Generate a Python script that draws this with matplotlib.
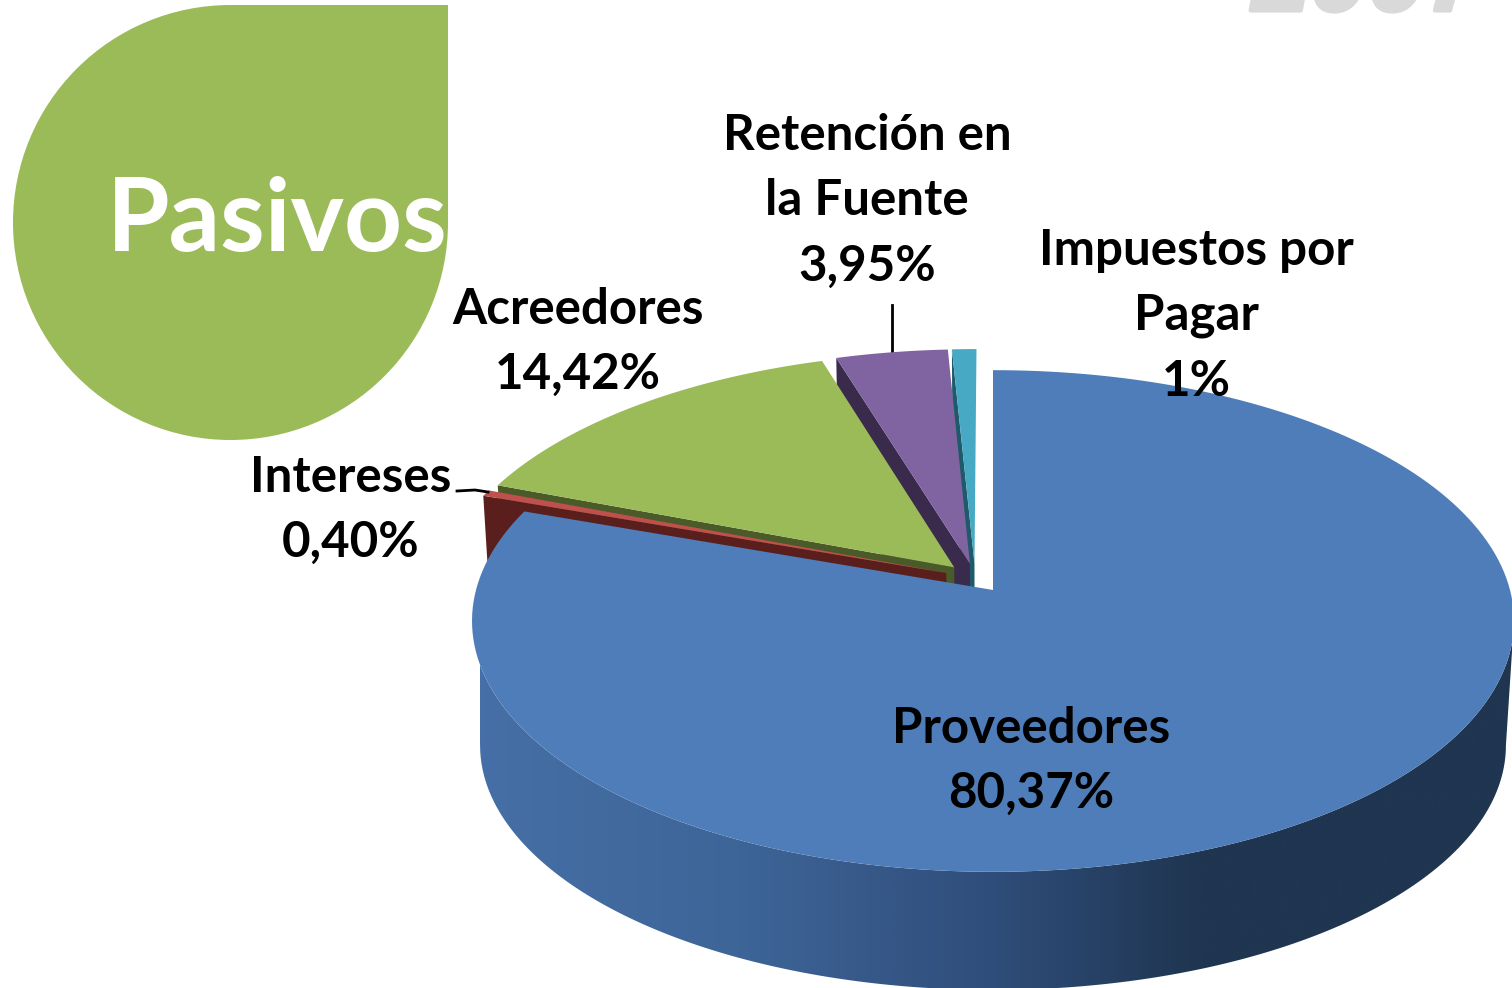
import numpy as np
import matplotlib.pyplot as plt
import matplotlib.patheffects as pe
from matplotlib.colors import LinearSegmentedColormap
from matplotlib.patches import Circle, Polygon, Rectangle

plt.rcParams['font.family'] = ['Lato', 'DejaVu Sans']

categories = ["Proveedores", "Intereses", "Acreedores", "Retención en\nla Fuente", "Impuestos por\nPagar"]
values = [80.37, 0.40, 14.42, 3.95, 0.86]
value_labels = ["80,37%", "0,40%", "14,42%", "3,95%", "1%"]
top_colors = ["#4e7db9", "#c0504d", "#9bbb59", "#8064a2", "#47a9c4"]
side_colors = ["#1f3550", "#5a1e1c", "#4a5a28", "#3a2a4c", "#1f5a6b"]
label_pos = [(1031, 728), (351, 477), (578, 309), (867, 135), (1196, 250)]

# pie geometry in pixels, k is the perspective
ox, oy = 993, 590
a_top, b_top = 517, 247
a_bot, b_bot = 509, 241
depth = 125
k = 0.1235
explode = 0.06
line_h = 65.5
label_size = 35.5

fig = plt.figure(figsize=(15.12, 9.88), dpi=100)
ax = fig.add_axes([0, 0, 1, 1])
ax.set_xlim(0, 1512)
ax.set_ylim(988, 0)
ax.axis("off")


def project(u, v, bottom=False):
    d = 1 + k * v
    if bottom:
        return np.column_stack([ox + a_bot * u / d, oy + depth - b_bot * v / d])
    return np.column_stack([ox + a_top * u / d, oy - b_top * v / d])


def rim(t0, t1, cu, cv, bottom=False):
    t = np.radians(np.linspace(t0, t1, 200))
    return project(cu + np.sin(t), cv + np.cos(t), bottom)


def apex(cu, cv, bottom=False):
    return project(np.array([cu]), np.array([cv]), bottom)


edges = np.cumsum([0] + values) / sum(values) * 360
mids = (edges[:-1] + edges[1:]) / 2
# blue stays at the origin, the others move away from it
base_u = -explode * np.sin(np.radians(mids[0]))
base_v = -explode * np.cos(np.radians(mids[0]))

# badge
ax.add_patch(Circle((230.5, 222.5), 217.5, color="#9bbb59", lw=0, zorder=1))
ax.add_patch(Rectangle((230.5, 5), 217.5, 217.5, color="#9bbb59", lw=0, zorder=1))
ax.text(277, 222, "Pasivos", color="white", fontsize=73, fontweight="bold",
        ha="center", va="center", zorder=2)

ax.text(1368, 10.5, "2007", color="#d9d9d9", fontsize=75, fontweight="bold", style="italic",
        family="Liberation Sans", ha="center", va="baseline", zorder=1,
        path_effects=[pe.withStroke(linewidth=3, foreground="#d9d9d9")])

# small slices, back to front
z = 3
for i in [4, 3, 2, 1]:
    cu = base_u + explode * np.sin(np.radians(mids[i]))
    cv = base_v + explode * np.cos(np.radians(mids[i]))
    t0, t1 = edges[i], edges[i + 1]
    p0 = rim(t0, t0, cu, cv)[:1]
    b0 = rim(t0, t0, cu, cv, True)[:1]
    wall = np.vstack([p0, apex(cu, cv), apex(cu, cv, True), b0])
    ax.add_patch(Polygon(wall, color=side_colors[i], lw=0, zorder=z))
    top = np.vstack([apex(cu, cv), rim(t0, t1, cu, cv)])
    ax.add_patch(Polygon(top, color=top_colors[i], lw=0, zorder=z + 1))
    z += 2

# blue outer wall with its shading, from one widest point of the rim to the other
widest = np.degrees(np.arccos(-k))
wall_top = rim(widest, 360 - widest, 0, 0)
wall_bot = rim(widest, 360 - widest, 0, 0, True)
wall_poly = Polygon(np.vstack([wall_top, wall_bot[::-1]]), fc="none", lw=0, zorder=z)
ax.add_patch(wall_poly)
shade = LinearSegmentedColormap.from_list(
    "shade", [(0, "#456fa6"), (0.25, "#3e6598"), (0.5, "#2f4d7a"), (0.7, "#1f3550"), (1, "#1f3550")])
img = ax.imshow(np.linspace(0, 1, 600)[None, :], cmap=shade, extent=(480, 1512, 988, 500),
                aspect="auto", zorder=z)
img.set_clip_path(wall_poly)
ax.set_xlim(0, 1512)
ax.set_ylim(988, 0)
z += 1

blue_top = np.vstack([apex(0, 0), rim(edges[0], edges[1], 0, 0)])
ax.add_patch(Polygon(blue_top, color=top_colors[0], lw=0, zorder=z))
z += 1

# leader lines
ax.plot([457, 475, 488], [491, 490, 492], color="black", lw=2, zorder=z)
ax.plot([892, 892], [305, 353], color="black", lw=2, zorder=2)

for name, val, (x, y) in zip(categories, value_labels, label_pos):
    lines = name.split("\n") + [val]
    for n, line in enumerate(lines):
        ax.text(x, y + n * line_h, line, color="black", fontsize=label_size, fontweight="bold",
                ha="center", va="center", zorder=z + 1)

fig.savefig("out.png", dpi=100, facecolor="white")
